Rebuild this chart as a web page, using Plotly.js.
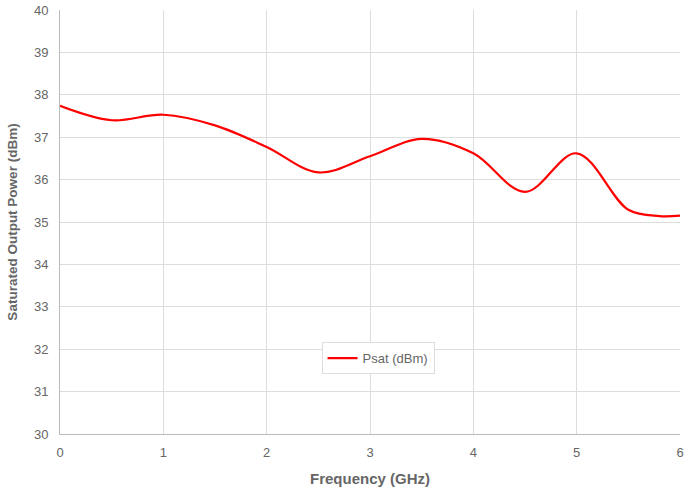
<!DOCTYPE html>
<html><head><meta charset="utf-8">
<script src="https://cdn.plot.ly/plotly-3.0.1.min.js"></script>
<style>html,body{margin:0;padding:0;background:#fff}#c{width:685px;height:491px}</style>
</head><body><div id="c"></div>
<script>
var freq = [0, 0.5, 1, 1.5, 2, 2.5, 3, 3.5, 4, 4.5, 5, 5.5, 5.8, 6];
var psat = [37.74, 37.4, 37.53, 37.28, 36.77, 36.17, 36.55, 36.96, 36.62, 35.71, 36.62, 35.29, 35.14, 35.15];
var seriesName = 'Psat (dBm)';
var xTicks = [0, 1, 2, 3, 4, 5, 6];
var yTicks = [30, 31, 32, 33, 34, 35, 36, 37, 38, 39, 40];
var F = '"Liberation Sans", Arial, sans-serif';

Plotly.newPlot('c', [{
  x: freq, y: psat, name: seriesName, type: 'scatter', mode: 'lines',
  line: {color: '#ff0000', width: 2.2, shape: 'spline', smoothing: 1},
  showlegend: true
}], {
  width: 685, height: 491,
  margin: {l: 60, r: 5, t: 10, b: 57},
  paper_bgcolor: '#fff', plot_bgcolor: '#fff',
  font: {family: F, color: '#666', size: 12},
  xaxis: {range: [0, 6], tickvals: xTicks, ticktext: xTicks.map(String),
    showgrid: true, gridcolor: '#ddd', zeroline: false, showline: true, linecolor: '#bbb',
    ticks: 'outside', ticklen: 6, tickcolor: '#fff', tickfont: {size: 13, color: '#666'},
    title: {text: 'Frequency (GHz)', font: {size: 15, color: '#666', family: F, weight: 'bold'}, standoff: 14}},
  yaxis: {range: [30, 40], tickvals: yTicks, ticktext: yTicks.map(String),
    showgrid: true, gridcolor: '#ddd', zeroline: false, showline: true, linecolor: '#bbb',
    ticks: 'outside', ticklen: 8, tickcolor: '#fff', tickfont: {size: 13, color: '#666'},
    title: {text: 'Saturated Output Power (dBm)', font: {size: 13.5, color: '#666', family: F, weight: 'bold'}, standoff: 13}},
  legend: {x: 0.513, y: 0.179, xanchor: 'center', yanchor: 'middle',
    bordercolor: '#ddd', borderwidth: 1, bgcolor: '#fff',
    font: {size: 13, color: '#666', family: F}, itemwidth: 30}
}, {displayModeBar: false});
</script></body></html>
